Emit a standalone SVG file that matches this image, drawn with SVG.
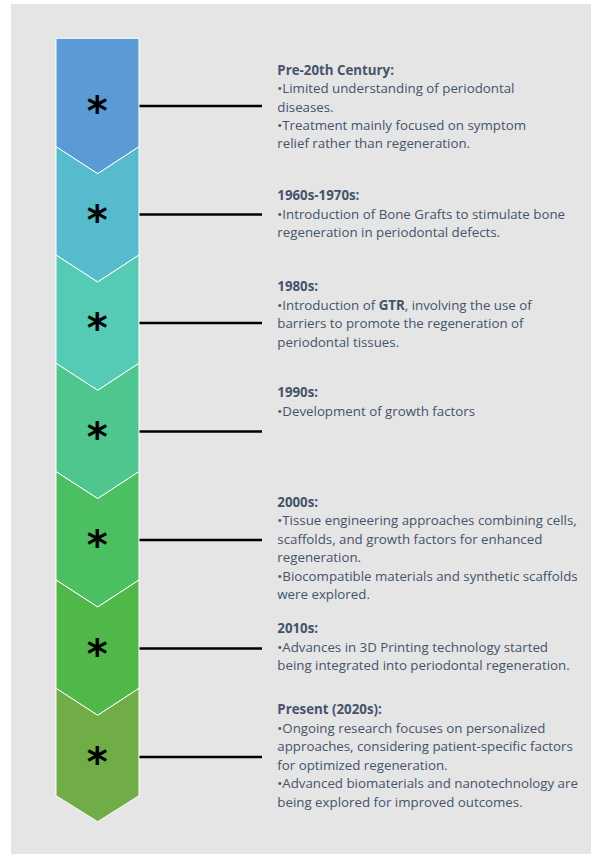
<svg xmlns="http://www.w3.org/2000/svg" width="591" height="854" viewBox="0 0 591 854">
<style>
.chev{stroke:#fff;stroke-width:1}
.ast{font-family:"DejaVu Sans",sans-serif;font-weight:bold;font-size:40px;fill:#000;text-anchor:middle}
.txt{font-family:"Open Sans","Liberation Sans",sans-serif;font-size:13.3px;fill:#44546A}
.b{font-weight:bold}
.conn line{stroke:#000;stroke-width:2.7}
</style>
<rect x="11" y="4" width="580" height="850" fill="#E5E5E5"/>
<g class="conn" id="connectors">
<line x1="139" y1="106" x2="262" y2="106"/>
<line x1="139" y1="214.5" x2="262" y2="214.5"/>
<line x1="139" y1="323" x2="262" y2="323"/>
<line x1="139" y1="431.5" x2="262" y2="431.5"/>
<line x1="139" y1="540" x2="262" y2="540"/>
<line x1="139" y1="648.5" x2="262" y2="648.5"/>
<line x1="139" y1="757" x2="262" y2="757"/>
</g>
<g id="n1">
<polygon class="chev" fill="#5B9BD5" points="56,38.3 139,38.3 139,146.7 97.7,173.7 56,146.7"/>
<text class="ast" x="97.3" y="125">*</text>
<text class="txt" x="277.3" y="75"><tspan class="b">Pre-20th Century:</tspan><tspan x="277.3" dy="18.3">•Limited understanding of periodontal</tspan><tspan x="277.3" dy="18.3">diseases.</tspan><tspan x="277.3" dy="18.3">•Treatment mainly focused on symptom</tspan><tspan x="277.3" dy="18.3">relief rather than regeneration.</tspan></text>
</g>
<g id="n2">
<polygon class="chev" fill="#56BBCD" points="56,146.7 97.7,173.7 139,146.7 139,255 97.7,282 56,255"/>
<text class="ast" x="97.3" y="233.5">*</text>
<text class="txt" x="277.3" y="200"><tspan class="b">1960s-1970s:</tspan><tspan x="277.3" dy="18.5">•Introduction of Bone Grafts to stimulate bone</tspan><tspan x="277.3" dy="18.5">regeneration in periodontal defects.</tspan></text>
</g>
<g id="n3">
<polygon class="chev" fill="#55CBB6" points="56,255 97.7,282 139,255 139,363.3 97.7,390.3 56,363.3"/>
<text class="ast" x="97.3" y="342">*</text>
<text class="txt" x="277.3" y="291"><tspan class="b">1980s:</tspan><tspan x="277.3" dy="18.5">•Introduction of <tspan class="b">GTR</tspan>, involving the use of</tspan><tspan x="277.3" dy="18.5">barriers to promote the regeneration of</tspan><tspan x="277.3" dy="18.5">periodontal tissues.</tspan></text>
</g>
<g id="n4">
<polygon class="chev" fill="#4EC68E" points="56,363.3 97.7,390.3 139,363.3 139,471.6 97.7,498.6 56,471.6"/>
<text class="ast" x="97.3" y="450.5">*</text>
<text class="txt" x="277.3" y="397.3"><tspan class="b">1990s:</tspan><tspan x="277.3" dy="18.5">•Development of growth factors</tspan></text>
</g>
<g id="n5">
<polygon class="chev" fill="#4BBF62" points="56,471.6 97.7,498.6 139,471.6 139,580 97.7,607 56,580"/>
<text class="ast" x="97.3" y="559">*</text>
<text class="txt" x="277.3" y="506.7"><tspan class="b">2000s:</tspan><tspan x="277.3" dy="18.5">•Tissue engineering approaches combining cells,</tspan><tspan x="277.3" dy="18.5">scaffolds, and growth factors for enhanced</tspan><tspan x="277.3" dy="18.5">regeneration.</tspan><tspan x="277.3" dy="18.5">•Biocompatible materials and synthetic scaffolds</tspan><tspan x="277.3" dy="18.5">were explored.</tspan></text>
</g>
<g id="n6">
<polygon class="chev" fill="#50B849" points="56,580 97.7,607 139,580 139,688.3 97.7,715.3 56,688.3"/>
<text class="ast" x="97.3" y="667.5">*</text>
<text class="txt" x="277.3" y="633.3"><tspan class="b">2010s:</tspan><tspan x="277.3" dy="18.5">•Advances in 3D Printing technology started</tspan><tspan x="277.3" dy="18.5">being integrated into periodontal regeneration.</tspan></text>
</g>
<g id="n7">
<polygon class="chev" fill="#70AD47" points="56,688.3 97.7,715.3 139,688.3 139,795.7 97.7,821.7 56,795.7"/>
<text class="ast" x="97.3" y="776">*</text>
<text class="txt" x="277.3" y="714"><tspan class="b">Present (2020s):</tspan><tspan x="277.3" dy="18.5">•Ongoing research focuses on personalized</tspan><tspan x="277.3" dy="18.5">approaches, considering patient-specific factors</tspan><tspan x="277.3" dy="18.5">for optimized regeneration.</tspan><tspan x="277.3" dy="18.5">•Advanced biomaterials and nanotechnology are</tspan><tspan x="277.3" dy="18.5">being explored for improved outcomes.</tspan></text>
</g>
</svg>
